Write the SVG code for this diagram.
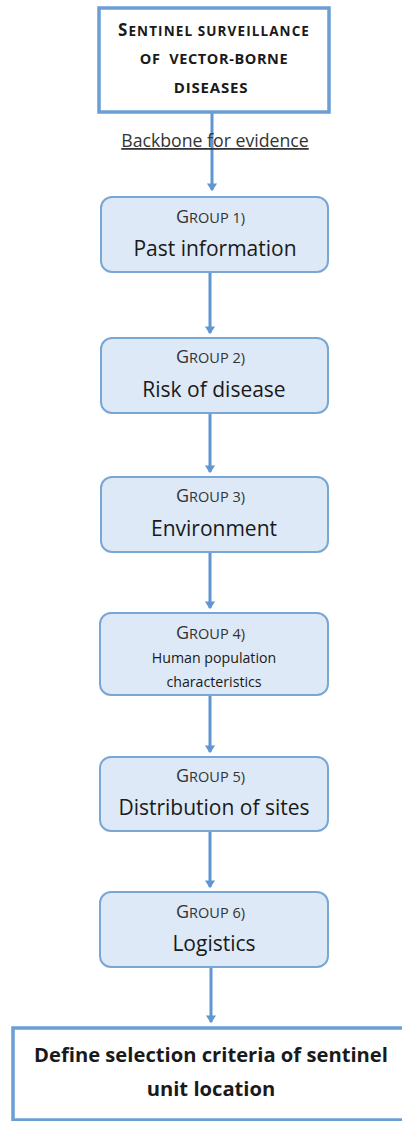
<svg xmlns="http://www.w3.org/2000/svg" width="402" height="1121" viewBox="0 0 402 1121">
<style>
.sq{fill:#ffffff;stroke:#6b9fd3;stroke-width:3.5}
.grp{fill:#dde9f6;stroke:#7aa6d6;stroke-width:2}
.t{font-family:"Open Sans",Lato,sans-serif;fill:#1a1a1a;text-anchor:middle}
.hb{font-weight:bold}
.lbl{font-size:14.5px;fill:#333}
.lblc{font-size:18px}
.main{font-size:21px}
.small{font-size:14.2px}
.conn line{stroke:#6196d0;stroke-width:3}
</style>
<defs>
<marker id="ah" markerWidth="4" markerHeight="4" refX="2.2" refY="2" orient="auto" markerUnits="strokeWidth">
<path d="M0,0.3 L2.6,2 L0,3.7 Z" fill="#6196d0"/>
</marker>
</defs>
<g id="connectors" class="conn">
<line x1="212" y1="112" x2="212" y2="190" marker-end="url(#ah)"/>
<line x1="210" y1="272" x2="210" y2="333" marker-end="url(#ah)"/>
<line x1="210" y1="413" x2="210" y2="472" marker-end="url(#ah)"/>
<line x1="210" y1="552" x2="210" y2="608" marker-end="url(#ah)"/>
<line x1="210" y1="695" x2="210" y2="752" marker-end="url(#ah)"/>
<line x1="210" y1="831" x2="210" y2="887" marker-end="url(#ah)"/>
<line x1="211" y1="967" x2="211" y2="1022" marker-end="url(#ah)"/>
</g>
<g id="top">
<rect class="sq" x="99" y="8" width="230" height="104"/>
<text class="t hb" x="214" y="36" letter-spacing="1.1"><tspan font-size="17">S</tspan><tspan font-size="13.5">ENTINEL SURVEILLANCE</tspan></text>
<text class="t hb" x="214" y="64" font-size="14.5" letter-spacing="0.6" xml:space="preserve">OF  VECTOR-BORNE</text>
<text class="t hb" x="211" y="93" font-size="15" letter-spacing="0.8">DISEASES</text>
</g>
<g id="backbone">
<text class="t" x="215" y="147" font-size="17.7" text-decoration="underline" style="fill:#333">Backbone for evidence</text>
</g>
<g id="g1">
<rect class="grp" x="101" y="197" width="227" height="75" rx="11"/>
<text class="t lbl" x="210.5" y="223"><tspan class="lblc">G</tspan>ROUP 1)</text>
<text class="t main" x="215" y="256">Past information</text>
</g>
<g id="g2">
<rect class="grp" x="101" y="338" width="227" height="75" rx="11"/>
<text class="t lbl" x="210.5" y="363"><tspan class="lblc">G</tspan>ROUP 2)</text>
<text class="t main" x="214" y="397">Risk of disease</text>
</g>
<g id="g3">
<rect class="grp" x="101" y="477" width="227" height="75" rx="11"/>
<text class="t lbl" x="210.5" y="502"><tspan class="lblc">G</tspan>ROUP 3)</text>
<text class="t main" x="214" y="536">Environment</text>
</g>
<g id="g4">
<rect class="grp" x="100" y="613" width="228" height="82" rx="11"/>
<text class="t lbl" x="210.5" y="639"><tspan class="lblc">G</tspan>ROUP 4)</text>
<text class="t small" x="214" y="663">Human population</text>
<text class="t small" x="214" y="687">characteristics</text>
</g>
<g id="g5">
<rect class="grp" x="100" y="757" width="228" height="74" rx="11"/>
<text class="t lbl" x="210.5" y="782"><tspan class="lblc">G</tspan>ROUP 5)</text>
<text class="t main" x="214" y="815">Distribution of sites</text>
</g>
<g id="g6">
<rect class="grp" x="100" y="892" width="228" height="75" rx="11"/>
<text class="t lbl" x="210.5" y="918"><tspan class="lblc">G</tspan>ROUP 6)</text>
<text class="t main" x="214" y="951">Logistics</text>
</g>
<g id="bottom">
<rect class="sq" x="13" y="1028" width="400" height="92"/>
<text class="t hb" x="211" y="1062" font-size="20.2">Define selection criteria of sentinel</text>
<text class="t hb" x="211" y="1096" font-size="20.2">unit location</text>
</g>
</svg>
